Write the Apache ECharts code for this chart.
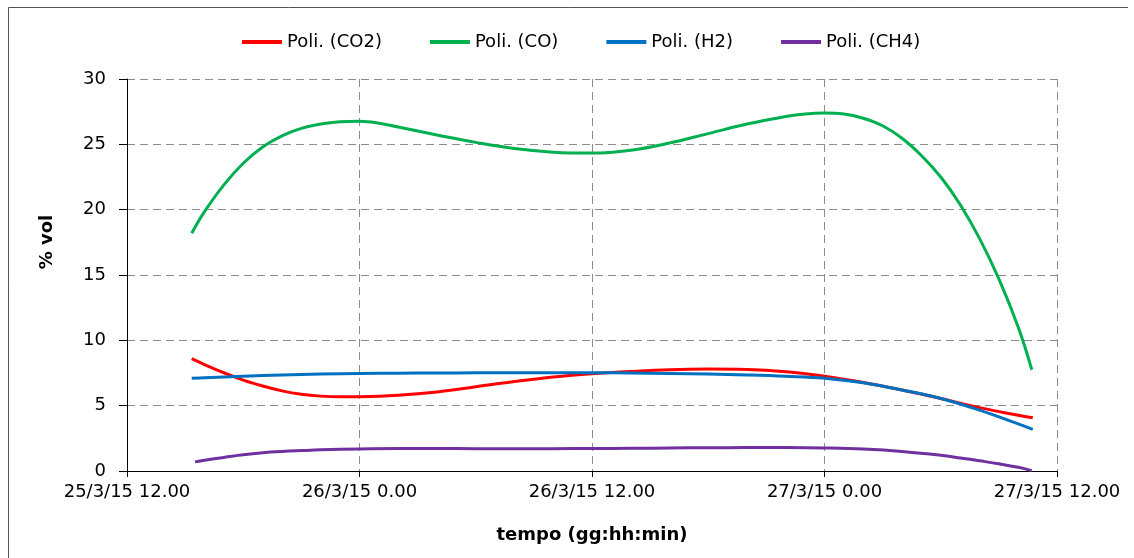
<!DOCTYPE html>
<html>
<head>
<meta charset="utf-8">
<script src="https://cdn.jsdelivr.net/npm/echarts@6/dist/echarts.min.js"></script>
<style>
html,body{margin:0;padding:0;background:#fff;}
#chart{width:1134px;height:558px;}
</style>
</head>
<body>
<div id="chart"></div>
<script>
// Tick labels for the time axis (hours from 25/3/15 12.00, step 12 h)
const timeLabels = ['25/3/15 12.00', '26/3/15 0.00', '26/3/15 12.00', '27/3/15 0.00', '27/3/15 12.00'];
const seriesNames = ['Poli. (CO2)', 'Poli. (CO)', 'Poli. (H2)', 'Poli. (CH4)'];

// [hours since 25/3/15 12.00, % vol] read from the trendlines
const co2Data = [
  [3.34, 8.6], [4, 8.15], [5, 7.52], [6, 6.95], [7, 6.5], [8, 6.13], [9, 5.87],
  [10, 5.73], [11, 5.68], [12, 5.69], [14, 5.8], [16, 6.05], [18, 6.45], [20, 6.85],
  [22, 7.2], [24, 7.45], [26, 7.62], [28, 7.75], [30, 7.8], [32, 7.77], [34, 7.6],
  [36, 7.25], [38, 6.77], [40, 6.2], [42, 5.55], [44, 4.85], [46, 4.27], [46.75, 4.08]
];
const coData = [
  [3.34, 18.2], [4, 19.85], [5, 21.9], [6, 23.55], [7, 24.8], [8, 25.65], [9, 26.22],
  [10, 26.56], [11, 26.73], [12, 26.77], [13, 26.62], [14, 26.32], [16, 25.72],
  [18, 25.15], [20, 24.68], [22, 24.4], [24, 24.33], [26, 24.55], [28, 25.1],
  [30, 25.82], [32, 26.55], [34, 27.13], [35, 27.33], [36, 27.4], [37, 27.33],
  [38, 27.0], [39, 26.42], [40, 25.47], [41, 24.15], [42, 22.5], [43, 20.4],
  [44, 17.8], [45, 14.7], [46, 11.0], [46.7, 7.75]
];
const h2Data = [
  [3.34, 7.09], [4, 7.13], [6, 7.25], [8, 7.35], [10, 7.42], [12, 7.46], [14, 7.48],
  [16, 7.5], [18, 7.51], [20, 7.52], [22, 7.52], [24, 7.52], [26, 7.5], [28, 7.47],
  [30, 7.42], [32, 7.35], [34, 7.25], [36, 7.1], [38, 6.75], [40, 6.2], [42, 5.55],
  [44, 4.66], [46, 3.6], [46.75, 3.19]
];
const ch4Data = [
  [3.51, 0.7], [4, 0.82], [5, 1.04], [6, 1.24], [7, 1.39], [8, 1.49], [9, 1.56],
  [10, 1.62], [12, 1.69], [14, 1.72], [16, 1.72], [18, 1.71], [20, 1.71], [22, 1.71],
  [24, 1.72], [26, 1.74], [28, 1.76], [30, 1.78], [32, 1.79], [34, 1.79], [36, 1.76],
  [38, 1.68], [40, 1.5], [42, 1.2], [43, 1.0], [44, 0.78], [45, 0.55], [46, 0.28],
  [46.69, 0.03]
];
const seriesColors = ['#FF0000', '#00B050', '#0070C0', '#7030A0'];

const FONT = 'DejaVu Sans';
const chart = echarts.init(document.getElementById('chart'), null, {renderer: 'canvas'});
const allData = [co2Data, coData, h2Data, ch4Data];

const option = {
  animation: false,
  backgroundColor: '#ffffff',
  textStyle: {fontFamily: FONT},
  legend: {
    left: 237,
    top: 28,
    icon: 'rect',
    itemWidth: 40,
    itemHeight: 4,
    itemGap: 48,
    textStyle: {fontFamily: FONT, fontSize: 18, color: '#000'},
    data: seriesNames
  },
  grid: {left: 127, right: 77, top: 79, bottom: 87, containLabel: false},
  xAxis: {
    type: 'value',
    min: 0,
    max: 48,
    interval: 12,
    name: 'tempo (gg:hh:min)',
    nameLocation: 'middle',
    nameGap: 55,
    nameTextStyle: {fontFamily: FONT, fontSize: 18, fontWeight: 'bold', color: '#000'},
    axisLine: {show: true, onZero: false, lineStyle: {color: '#000', width: 1}},
    axisTick: {show: true, length: 6, lineStyle: {color: '#000'}},
    axisLabel: {
      margin: 12,
      fontFamily: FONT, fontSize: 18, color: '#000',
      formatter: function (v) { return timeLabels[Math.round(v / 12)]; }
    },
    splitLine: {show: true, lineStyle: {color: '#8c8c8c', type: [8, 5], width: 1}}
  },
  yAxis: {
    type: 'value',
    min: 0,
    max: 30,
    interval: 5,
    axisLine: {show: true, lineStyle: {color: '#000', width: 1}},
    axisTick: {show: true, length: 8, lineStyle: {color: '#000'}},
    axisLabel: {margin: 21, fontFamily: FONT, fontSize: 18, color: '#000'},
    splitLine: {show: true, lineStyle: {color: '#8c8c8c', type: [8, 5], width: 1}}
  },
  graphic: [
    {
      type: 'text', x: 47, y: 242, rotation: Math.PI / 2,
      style: {text: '% vol', font: 'bold 18px "DejaVu Sans"', fill: '#000', align: 'center', verticalAlign: 'middle'}
    },
    {
      type: 'polyline', silent: true,
      shape: {points: [[8.5, 560], [8.5, 7.5], [1128, 7.5]]},
      style: {stroke: '#555', lineWidth: 1, fill: null}
    }
  ],
  series: seriesNames.map(function (name, i) {
    return {
      name: name,
      type: 'line',
      data: allData[i],
      smooth: 0.4,
      showSymbol: false,
      symbol: 'none',
      color: seriesColors[i],
      lineStyle: {color: seriesColors[i], width: 3}
    };
  })
};
chart.setOption(option);
</script>
</body>
</html>
